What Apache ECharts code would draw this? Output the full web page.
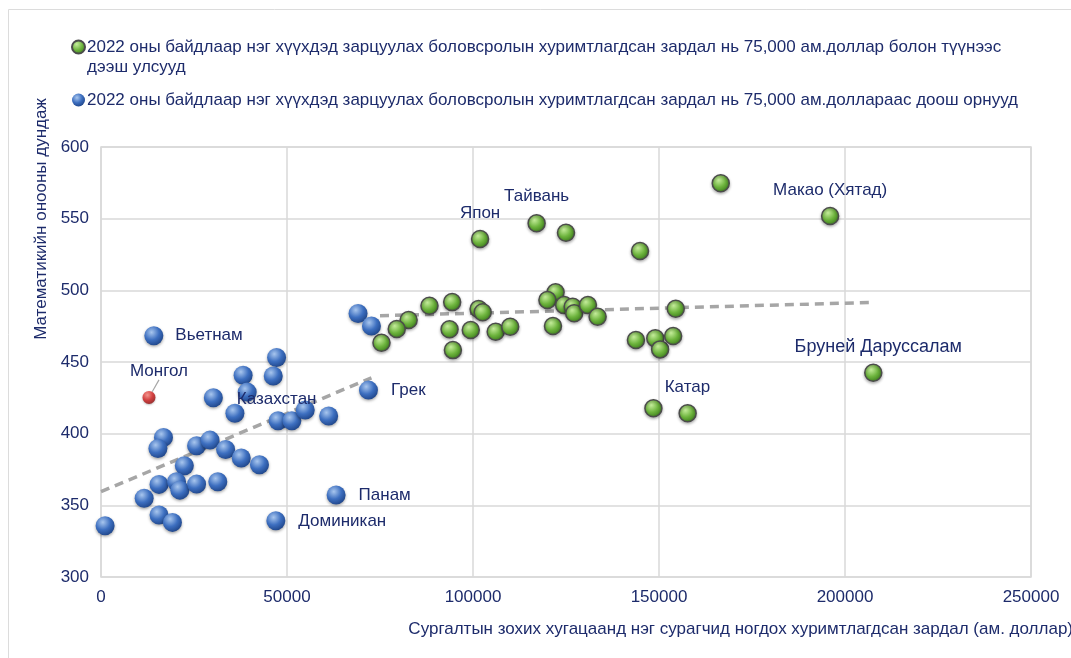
<!DOCTYPE html>
<html>
<head>
<meta charset="utf-8">
<script src="https://cdn.jsdelivr.net/npm/echarts@6/dist/echarts.min.js"></script>
<style>
html, body { margin: 0; padding: 0; background: #fff; }
#main { width: 1071px; height: 658px; }
</style>
</head>
<body>
<div id="main"></div>
<script>
// ≥ 75,000 ам.доллар - ногоон
var greenPts = [
	[101900, 535.8], [117100, 546.8], [125000, 540.2], [144900, 527.4],
	[88300, 489.3], [94400, 491.8], [101500, 487.0], [102600, 484.7],
	[82700, 479.3], [79500, 473.0], [75400, 463.4], [93700, 472.8],
	[99400, 472.3], [94600, 458.3], [106100, 471.1], [110000, 474.6],
	[122200, 498.6], [120000, 493.2], [124500, 489.7], [126800, 488.6],
	[127200, 484.0], [130900, 489.7], [133500, 481.6], [121500, 475.1],
	[154500, 487.2], [143800, 465.3], [149000, 466.5], [150300, 458.8],
	[153800, 468.1], [166600, 574.7], [196000, 551.9], [207600, 442.5],
	[148500, 417.7], [157700, 414.2]
];
var greenNames = {
	'101900': 'Япон', '117100': 'Тайвань', '196000': 'Макао (Хятад)',
	'207600': 'Бруней Даруссалам', '148500': 'Катар'
};

// < 75,000 ам.доллар - цэнхэр
var bluePts = [
	[14200, 468.3], [47200, 453.2], [38200, 440.7], [46300, 440.2],
	[39300, 429.0], [30200, 425.1], [36000, 414.2], [47600, 409.0],
	[51300, 409.0], [54900, 416.5], [61200, 412.3], [71900, 430.4],
	[69100, 483.9], [72700, 475.1], [16800, 397.4], [15300, 389.7],
	[25700, 391.6], [29300, 395.5], [33500, 389.0], [37700, 383.0],
	[42600, 378.3], [22400, 377.6], [15600, 364.6], [20300, 366.4],
	[21200, 360.6], [25700, 364.8], [31400, 366.4], [11600, 354.9],
	[15600, 343.2], [19200, 338.1], [1100, 335.8], [47000, 339.2],
	[63200, 357.2]
];
var blueNames = {
	'14200': 'Вьетнам', '30200': 'Казахстан', '71900': 'Грек',
	'63200': 'Панам', '47000': 'Доминикан'
};

var mongolia = [[12900, 425.3]];

var trendBlue = [[0, 359.5], [72700, 439.0]];
var trendGreen = [[75000, 482.3], [207800, 491.6]];

var legendGreen = '2022 оны байдлаар нэг хүүхдэд зарцуулах боловсролын хуримтлагдсан зардал нь 75,000 ам.доллар болон түүнээс дээш улсууд';
var legendBlue = '2022 оны байдлаар нэг хүүхдэд зарцуулах боловсролын хуримтлагдсан зардал нь 75,000 ам.доллараас доош орнууд';

var navy = '#1d2b6b';
var font = "'Liberation Sans', Arial, Helvetica, sans-serif";

// шошгоны байрлал
var labelPos = {
	'Вьетнам': { position: 'right', distance: 12 },
	'Казахстан': { position: 'right', distance: 14, offset: [0, 2] },
	'Грек': { position: 'right', distance: 13 },
	'Панам': { position: 'right', distance: 13 },
	'Доминикан': { position: 'right', distance: 13 },
	'Япон': { position: 'top', distance: 8 },
	'Тайвань': { position: 'top', distance: 9 },
	'Макао (Хятад)': { position: 'top', distance: 8 },
	'Катар': { position: 'top', distance: 3, offset: [34, 0] },
	'Бруней Даруссалам': { position: 'top', distance: 7, offset: [5, 0], size: 18 }
};

function sphere(c0, c1, c2) {
	return new echarts.graphic.RadialGradient(0.38, 0.32, 0.72, [
		{ offset: 0, color: c0 },
		{ offset: 0.55, color: c1 },
		{ offset: 1, color: c2 }
	]);
}

function buildData(pts, names) {
	var out = [];
	for (var i = 0; i < pts.length; i++) {
		var p = pts[i];
		var item = { value: p };
		var nm = names[String(p[0])];
		if (nm) {
			var lp = labelPos[nm];
			item.label = {
				show: true,
				formatter: nm,
				position: lp.position,
				distance: lp.distance,
				offset: lp.offset || [0, 0],
				color: navy,
				fontSize: lp.size || 17,
				fontFamily: font
			};
		}
		out.push(item);
	}
	return out;
}

var chart = echarts.init(document.getElementById('main'));
var option = {
	backgroundColor: '#fff',
	animation: false,
	textStyle: { fontFamily: font },
	grid: {
		left: 101, right: 40, top: 147, bottom: 81,
		outerBoundsMode: 'none',
		show: true, borderColor: '#d9d9d9', borderWidth: 1.5
	},
	legend: {
		orient: 'vertical',
		left: 71,
		top: 17,
		padding: 0,
		itemGap: 13,
		itemWidth: 13,
		itemHeight: 13,
		data: [
			{ name: legendGreen, icon: 'circle' },
			{ name: legendBlue, icon: 'circle' }
		],
		formatter: function (name) {
			if (name === legendGreen) {
				// хоосон эхний мөр: тэмдэг эхний мөртэй зэрэгцэнэ
				return '\n' + name.replace(' дээш', '\nдээш');
			}
			return name;
		},
		textStyle: { color: navy, fontSize: 17, lineHeight: 20, padding: [0, 0, 0, -3] }
	},
	xAxis: {
		type: 'value',
		min: 0, max: 250000, interval: 50000,
		name: 'Сургалтын зохих хугацаанд нэг сурагчид ногдох хуримтлагдсан зардал (ам. доллар)',
		nameLocation: 'end',
		nameGap: 42,
		nameTextStyle: { color: navy, fontSize: 17, align: 'right', verticalAlign: 'top', padding: [44, 0, 0, 0] },
		axisLine: { show: false },
		axisTick: { show: false },
		axisLabel: {
			color: navy, fontSize: 17, margin: 12,
			formatter: function (v) { return String(v); }
		},
		splitLine: { show: true, lineStyle: { color: '#d9d9d9', width: 1.5 } }
	},
	yAxis: {
		type: 'value',
		min: 300, max: 600, interval: 50,
		name: 'Математикийн онооны дундаж',
		nameLocation: 'middle',
		nameGap: 46,
		nameTextStyle: { color: navy, fontSize: 17, padding: [0, 0, 0, 286] },
		axisLine: { show: false },
		axisTick: { show: false },
		axisLabel: { color: navy, fontSize: 17, margin: 12 },
		splitLine: { show: true, lineStyle: { color: '#d9d9d9', width: 1.5 } }
	},
	graphic: [{
		type: 'rect',
		shape: { x: 8.5, y: 9.5, width: 1100, height: 700 },
		style: { fill: 'none', stroke: '#dcdcdc', lineWidth: 1 },
		silent: true,
		z: -10
	}],
	series: [
		{
			type: 'line',
			data: trendBlue,
			symbol: 'none',
			lineStyle: { color: '#a6a6a6', width: 3.5, type: [9, 6] },
			silent: true,
			z: 1
		},
		{
			type: 'line',
			data: trendGreen,
			symbol: 'none',
			lineStyle: { color: '#a6a6a6', width: 3.5, type: [9, 6] },
			silent: true,
			z: 1
		},
		{
			name: legendGreen,
			type: 'scatter',
			symbolSize: 17,
			data: buildData(greenPts, greenNames),
			itemStyle: {
				color: sphere('#c6ee9c', '#6cb33c', '#3b7a1c'),
				borderColor: '#4b4b4b',
				borderWidth: 1.5,
				shadowBlur: 3,
				shadowColor: 'rgba(0,0,0,0.3)',
				shadowOffsetY: 1.5,
				opacity: 1
			},
			z: 3
		},
		{
			name: legendBlue,
			type: 'scatter',
			symbolSize: 19,
			data: buildData(bluePts, blueNames),
			itemStyle: {
				color: sphere('#a8c6ee', '#3d6fc0', '#1f4589'),
				shadowBlur: 3,
				shadowColor: 'rgba(0,0,0,0.35)',
				shadowOffsetY: 1.5,
				opacity: 1
			},
			z: 3
		},
		{
			name: 'Монгол',
			type: 'scatter',
			symbolSize: 13,
			data: mongolia,
			itemStyle: {
				color: sphere('#ff8a80', '#d61f1f', '#8c0a0a'),
				shadowBlur: 2,
				shadowColor: 'rgba(0,0,0,0.3)',
				shadowOffsetY: 1
			},
			label: {
				show: true,
				formatter: 'Монгол',
				position: 'top',
				color: navy,
				opacity: 1,
				fontSize: 17
			},
			labelLayout: { dx: 10, dy: -6 },
			labelLine: { show: true, lineStyle: { color: '#a6a6a6', width: 1.2 } },
			z: 4
		}
	]
};
chart.setOption(option);
</script>
</body>
</html>
